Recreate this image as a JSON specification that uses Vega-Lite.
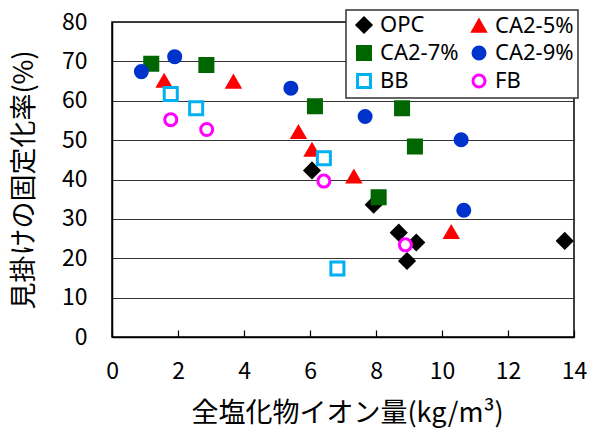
{
  "$schema": "https://vega.github.io/schema/vega-lite/v6.json",
  "width": 462,
  "height": 315,
  "autosize": {"type": "none"},
  "padding": {"left": 112, "top": 22, "right": 16, "bottom": 93},
  "background": "white",
  "config": {
    "view": {"stroke": "black", "strokeWidth": 1.5},
    "font": "Noto Sans CJK JP",
    "legend": {
      "orient": "none",
      "legendX": 234,
      "legendY": -12,
      "columns": 2,
      "direction": "horizontal",
      "padding": 4,
      "fillColor": "white",
      "strokeColor": "#333333",
      "strokeWidth": 1.5,
      "labelFont": "Noto Sans",
      "labelFontSize": 22,
      "labelColor": "black",
      "labelOffset": 5,
      "symbolOffset": 3,
      "rowPadding": 2,
      "columnPadding": 6,
      "symbolStrokeWidth": 3,
      "symbolOpacity": 1
    }
  },
  "data": {
    "values": [
      {"s": "OPC", "x": 6.06, "y": 42.3},
      {"s": "OPC", "x": 7.93, "y": 33.6},
      {"s": "OPC", "x": 8.69, "y": 26.5},
      {"s": "OPC", "x": 9.22, "y": 24.0},
      {"s": "OPC", "x": 8.94, "y": 19.3},
      {"s": "OPC", "x": 13.72, "y": 24.4},
      {"s": "CA2-5%", "x": 1.58, "y": 65.0},
      {"s": "CA2-5%", "x": 3.68, "y": 64.8},
      {"s": "CA2-5%", "x": 5.65, "y": 52.0},
      {"s": "CA2-5%", "x": 6.06, "y": 47.5},
      {"s": "CA2-5%", "x": 7.33, "y": 40.7},
      {"s": "CA2-5%", "x": 10.28, "y": 26.6},
      {"s": "CA2-7%", "x": 1.19, "y": 69.4},
      {"s": "CA2-7%", "x": 2.86, "y": 69.1},
      {"s": "CA2-7%", "x": 6.15, "y": 58.6},
      {"s": "CA2-7%", "x": 8.79, "y": 58.1},
      {"s": "CA2-7%", "x": 9.18, "y": 48.4},
      {"s": "CA2-7%", "x": 8.08, "y": 35.5},
      {"s": "CA2-9%", "x": 0.89, "y": 67.4},
      {"s": "CA2-9%", "x": 1.9, "y": 71.2},
      {"s": "CA2-9%", "x": 5.42, "y": 63.2},
      {"s": "CA2-9%", "x": 7.67, "y": 56.0},
      {"s": "CA2-9%", "x": 10.58, "y": 50.1},
      {"s": "CA2-9%", "x": 10.66, "y": 32.2},
      {"s": "BB", "x": 1.78, "y": 61.7},
      {"s": "BB", "x": 2.55, "y": 58.1},
      {"s": "BB", "x": 6.42, "y": 45.4},
      {"s": "BB", "x": 6.83, "y": 17.4},
      {"s": "FB", "x": 1.78, "y": 55.2},
      {"s": "FB", "x": 2.87, "y": 52.7},
      {"s": "FB", "x": 6.42, "y": 39.6},
      {"s": "FB", "x": 8.89, "y": 23.4}
    ]
  },
  "mark": {"type": "point", "opacity": 1, "strokeWidth": 3},
  "encoding": {
    "x": {
      "field": "x",
      "type": "quantitative",
      "scale": {"domain": [0, 14], "nice": false},
      "axis": {
        "title": "全塩化物イオン量(kg/m³)",
        "values": [0, 2, 4, 6, 8, 10, 12, 14],
        "grid": false,
        "domainColor": "black",
        "domainWidth": 1.5,
        "tickColor": "black",
        "tickSize": -7,
        "tickWidth": 1.2,
        "labelFontSize": 23,
        "labelColor": "black",
        "labelPadding": 30,
        "labelFlush": false,
        "titleFontSize": 27,
        "titleFontWeight": "normal",
        "titleColor": "black",
        "titleX": 235,
        "titleY": 76,
        "titleBaseline": "middle",
        "titleAlign": "center"
      }
    },
    "y": {
      "field": "y",
      "type": "quantitative",
      "scale": {"domain": [0, 80], "nice": false},
      "axis": {
        "title": "見掛けの固定化率(%)",
        "values": [0, 10, 20, 30, 40, 50, 60, 70, 80],
        "grid": true,
        "gridColor": "#333333",
        "gridWidth": 1,
        "domainColor": "black",
        "domainWidth": 1.5,
        "tickSize": 0,
        "labelFontSize": 23,
        "labelColor": "black",
        "labelPadding": 25,
        "labelFlush": false,
        "titleFontSize": 27,
        "titleFontWeight": "normal",
        "titleColor": "black",
        "titleAngle": -90,
        "titleX": -88,
        "titleY": 157.5,
        "titleBaseline": "middle",
        "titleAlign": "center"
      }
    },
    "shape": {
      "field": "s",
      "type": "nominal",
      "scale": {
        "domain": ["OPC", "CA2-5%", "CA2-7%", "CA2-9%", "BB", "FB"],
        "range": ["diamond", "triangle-up", "square", "circle", "square", "circle"]
      },
      "legend": {"title": null}
    },
    "fill": {
      "field": "s",
      "type": "nominal",
      "scale": {
        "domain": ["OPC", "CA2-5%", "CA2-7%", "CA2-9%", "BB", "FB"],
        "range": ["#000000", "#FF0000", "#006600", "#0033CC", "#FFFFFF", "#FFFFFF"]
      },
      "legend": {"title": null}
    },
    "stroke": {
      "field": "s",
      "type": "nominal",
      "scale": {
        "domain": ["OPC", "CA2-5%", "CA2-7%", "CA2-9%", "BB", "FB"],
        "range": ["#000000", "#FF0000", "#006600", "#0033CC", "#00B0F0", "#FF00FF"]
      },
      "legend": {"title": null}
    },
    "size": {
      "field": "s",
      "type": "nominal",
      "scale": {
        "type": "ordinal",
        "domain": ["OPC", "CA2-5%", "CA2-7%", "CA2-9%", "BB", "FB"],
        "range": [195, 150, 170, 145, 170, 144]
      },
      "legend": {"title": null}
    }
  }
}
